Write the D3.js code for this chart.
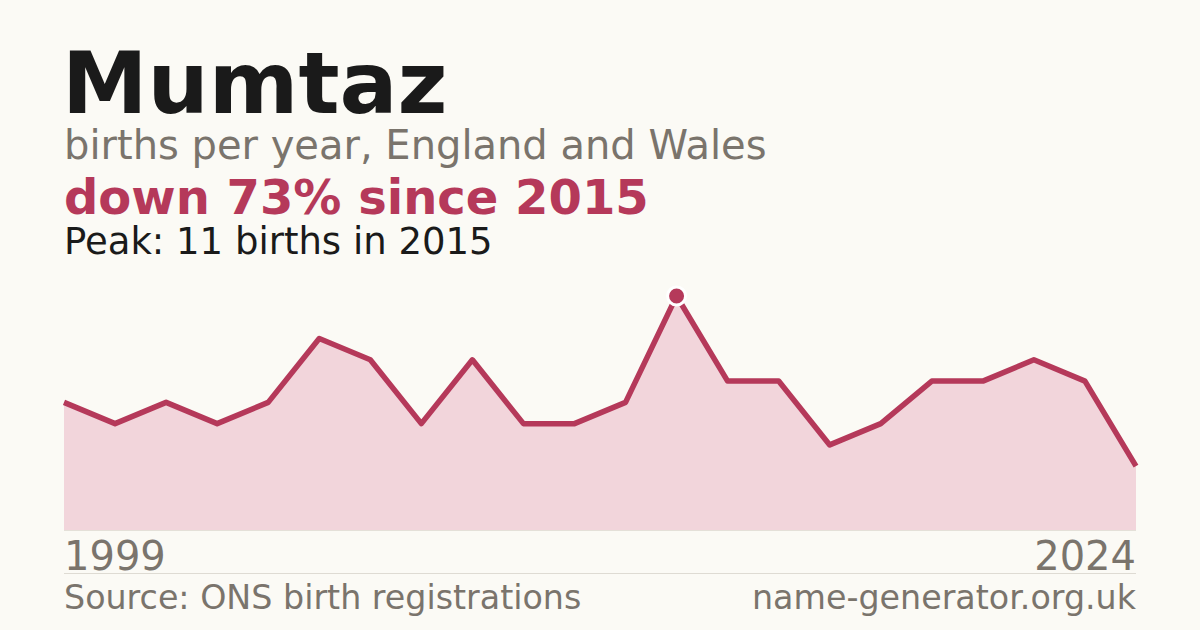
<!DOCTYPE html>
<html><head><meta charset="utf-8">
<script src="https://cdn.jsdelivr.net/npm/d3@7"></script>
<style>html,body{margin:0;padding:0;background:#fbfaf5;}svg{display:block;}</style>
</head><body>
<script>
const years = [1999,2000,2001,2002,2004,2005,2006,2008,2009,2010,2012,2013,2015,2016,2017,2018,2019,2020,2021,2022,2023,2024];
const births = [6,5,6,5,6,9,8,5,8,5,5,6,11,7,7,4,5,7,7,8,7,3];
const xLabels = ["1999","2024"];
const title = "Mumtaz";
const subtitle = "births per year, England and Wales";
const headline = "down 73% since 2015";
const peakText = "Peak: 11 births in 2015";
const source = "Source: ONS birth registrations";
const site = "name-generator.org.uk";

const W=1200,H=630, L=64, R=1136;
const red="#b5395a", gray="#7a746c", dark="#1a1a1a";
const svg=d3.select("body").append("svg").attr("width",W).attr("height",H);
svg.append("rect").attr("width",W).attr("height",H).attr("fill","#fbfaf5");
const font="DejaVu Sans, sans-serif";

const x=d3.scalePoint().domain(years).range([L,R]);
const y=d3.scaleLinear().domain([0,11]).range([530,296]);

svg.append("path").datum(births).attr("fill","#f2d5db")
  .attr("d",d3.area().x((d,i)=>x(years[i])).y0(y(0)).y1(d=>y(d)));
svg.append("line").attr("x1",L).attr("x2",R).attr("y1",530.5).attr("y2",530.5).attr("stroke","#e4e0d8").attr("stroke-width",1);
svg.append("path").datum(births).attr("fill","none").attr("stroke",red).attr("stroke-width",5.5)
  .attr("stroke-linejoin","round")
  .attr("d",d3.line().x((d,i)=>x(years[i])).y(d=>y(d)));
const pi=births.indexOf(d3.max(births));
svg.append("circle").attr("cx",x(years[pi])).attr("cy",y(births[pi])).attr("r",9)
  .attr("fill",red).attr("stroke","#fff").attr("stroke-width",3);

const t=(txt,xx,yy,size,col,wt,anchor)=>svg.append("text").text(txt).attr("x",xx).attr("y",yy)
  .attr("font-family",font).attr("font-size",size).attr("fill",col).attr("font-weight",wt||"normal")
  .attr("text-anchor",anchor||"start");
t(title,62,113,86,dark,"bold");
t(subtitle,64,159,40,gray);
t(headline,64,214,48,red,"bold");
t(peakText,64,254,37,dark);
t(xLabels[0],64,570,40,gray);
t(xLabels[1],R,570,40,gray,"normal","end");
svg.append("line").attr("x1",L).attr("x2",R).attr("y1",573.5).attr("y2",573.5).attr("stroke","#dedbd3").attr("stroke-width",1);
t(source,64,609,33.3,gray);
t(site,R,609,33.3,gray,"normal","end");
</script>
</body></html>
